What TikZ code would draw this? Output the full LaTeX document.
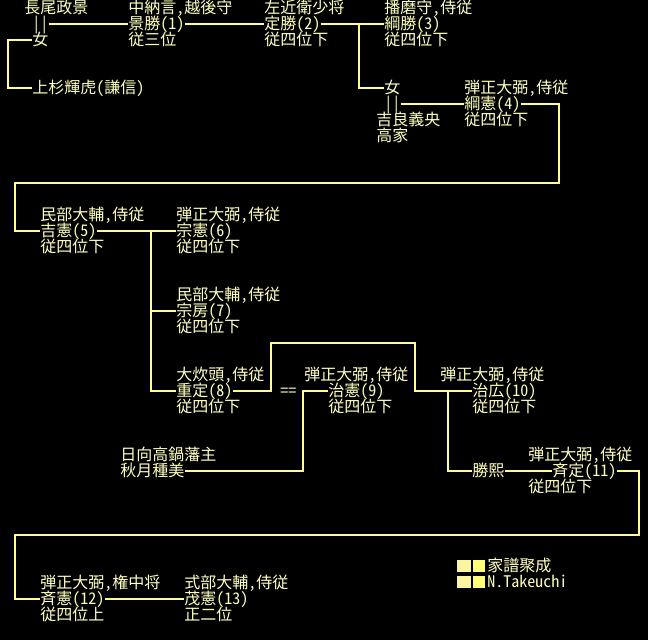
\documentclass[tikz,border=0pt]{standalone}
\usepackage{fontspec}
\setmainfont[RawFeature=+hwid]{Noto Sans CJK JP}
\definecolor{kafutext}{RGB}{255,255,192}
\definecolor{kafuline}{RGB}{255,255,144}
\definecolor{kafusqa}{RGB}{250,245,160}
\definecolor{kafusqb}{RGB}{255,255,120}

\begin{document}
\begin{tikzpicture}[x=0.75pt,y=0.75pt,yscale=-1,xscale=1,
  tx/.style={anchor=west,inner sep=0pt,text=kafutext,font=\fontsize{12pt}{12pt}\selectfont,text height=10.2pt,text depth=1.8pt},
  ln/.style={draw=kafuline,line width=1.6pt,line join=miter}]
%set diagram left start at 0, and has height of 640
\fill [black] (0,0) rectangle (648,640);
\useasboundingbox (0,0) rectangle (648,640);

% Text Node
\draw (24,8) node [tx] (masakage) {長尾政景};
\draw (32,24) node [tx] (masakage-eq) {||};
\draw (32,40) node [tx] (masakage-onna) {女};
\draw (32,88) node [tx] (kenshin) {上杉輝虎(謙信)};
% Text Node
\draw (128,8) node [tx] (kagekatsu-t) {中納言,越後守};
\draw (128,24) node [tx] (kagekatsu) {景勝(1)};
\draw (128,40) node [tx] (kagekatsu-r) {従三位};
% Text Node
\draw (264,8) node [tx] (sadakatsu-t) {左近衛少将};
\draw (264,24) node [tx] (sadakatsu) {定勝(2)};
\draw (264,40) node [tx] (sadakatsu-r) {従四位下};
% Text Node
\draw (384,8) node [tx] (tsunakatsu-t) {播磨守,侍従};
\draw (384,24) node [tx] (tsunakatsu) {綱勝(3)};
\draw (384,40) node [tx] (tsunakatsu-r) {従四位下};
% Text Node
\draw (384,88) node [tx] (onna) {女};
\draw (384,104) node [tx] (onna-eq) {||};
\draw (376,120) node [tx] (yoshinaka) {吉良義央};
\draw (376,136) node [tx] (yoshinaka-r) {高家};
% Text Node
\draw (464,88) node [tx] (tsunanori-t) {弾正大弼,侍従};
\draw (464,104) node [tx] (tsunanori) {綱憲(4)};
\draw (464,120) node [tx] (tsunanori-r) {従四位下};
% Text Node
\draw (40,215) node [tx] (yoshinori-t) {民部大輔,侍従};
\draw (40,231) node [tx] (yoshinori) {吉憲(5)};
\draw (40,247) node [tx] (yoshinori-r) {従四位下};
% Text Node
\draw (176,215) node [tx] (munenori-t) {弾正大弼,侍従};
\draw (176,231) node [tx] (munenori) {宗憲(6)};
\draw (176,247) node [tx] (munenori-r) {従四位下};
% Text Node
\draw (176,295) node [tx] (munefusa-t) {民部大輔,侍従};
\draw (176,311) node [tx] (munefusa) {宗房(7)};
\draw (176,327) node [tx] (munefusa-r) {従四位下};
% Text Node
\draw (176,375) node [tx] (shigesada-t) {大炊頭,侍従};
\draw (176,391) node [tx] (shigesada) {重定(8)};
\draw (176,407) node [tx] (shigesada-r) {従四位下};
% Text Node
\draw (280,391) node [tx] (harunori-eq) {==};
\draw (304,375) node [tx] (harunori-t) {弾正大弼,侍従};
\draw (328,391) node [tx] (harunori) {治憲(9)};
\draw (328,407) node [tx] (harunori-r) {従四位下};
% Text Node
\draw (120,455) node [tx] (tanemi-t) {日向高鍋藩主};
\draw (120,471) node [tx] (tanemi) {秋月種美};
% Text Node
\draw (440,375) node [tx] (haruhiro-t) {弾正大弼,侍従};
\draw (472,391) node [tx] (haruhiro) {治広(10)};
\draw (472,407) node [tx] (haruhiro-r) {従四位下};
% Text Node
\draw (472,471) node [tx] (katsuhiro) {勝熙};
% Text Node
\draw (528,455) node [tx] (narisada-t) {弾正大弼,侍従};
\draw (552,471) node [tx] (narisada) {斉定(11)};
\draw (528,487) node [tx] (narisada-r) {従四位下};
% Text Node
\draw (40,583) node [tx] (narinori-t) {弾正大弼,権中将};
\draw (40,599) node [tx] (narinori) {斉憲(12)};
\draw (40,615) node [tx] (narinori-r) {従四位上};
% Text Node
\draw (184,583) node [tx] (mochinori-t) {式部大輔,侍従};
\draw (184,599) node [tx] (mochinori) {茂憲(13)};
\draw (184,615) node [tx] (mochinori-r) {正二位};

%Shape: Legend
\fill [kafusqa] (457,560) rectangle (471,572);
\fill [kafusqb] (473,560) rectangle (485,572);
\fill [kafusqa] (457,576) rectangle (471,588);
\fill [kafusqb] (473,576) rectangle (485,588);
\draw (487,566) node [tx] (legend-a) {家譜聚成};
\draw (487,582) node [tx] (legend-b) {N.Takeuchi};

%Straight Lines
\coordinate (br0) at (8,40);
\coordinate (br2) at (359,24);
\coordinate (turn4a) at (559,183);
\coordinate (turn4b) at (15,183);
\coordinate (br5) at (151,231);
\coordinate (turn8a) at (271,343);
\coordinate (turn8b) at (415,343);
\coordinate (br9) at (303,391);
\coordinate (br10) at (448,391);
\coordinate (turn11a) at (639,535);
\coordinate (turn11b) at (15,535);

\draw [ln] (masakage-eq.east) -- (kagekatsu.west);
\draw [ln] (masakage-onna.west) -- (br0) |- (kenshin.west);
\draw [ln] (kagekatsu.east) -- (sadakatsu.west);
\draw [ln] (sadakatsu.east) -- (tsunakatsu.west);
\draw [ln] (br2) |- (onna.west);
\draw [ln] (onna-eq.east) -- (tsunanori.west);
\draw [ln] (tsunanori.east) -| (turn4a) -- (turn4b) |- (yoshinori.west);
\draw [ln] (yoshinori.east) -- (munenori.west);
\draw [ln] (br5) |- (munefusa.west);
\draw [ln] (br5) |- (shigesada.west);
\draw [ln] (shigesada.east) -| (turn8a) -- (turn8b) |- (haruhiro.west);
\draw [ln] (harunori.west) -- (br9) |- (tanemi.east);
\draw [ln] (br10) |- (katsuhiro.west);
\draw [ln] (katsuhiro.east) -- (narisada.west);
\draw [ln] (narisada.east) -| (turn11a) -- (turn11b) |- (narinori.west);
\draw [ln] (narinori.east) -- (mochinori.west);

\end{tikzpicture}
\end{document}
